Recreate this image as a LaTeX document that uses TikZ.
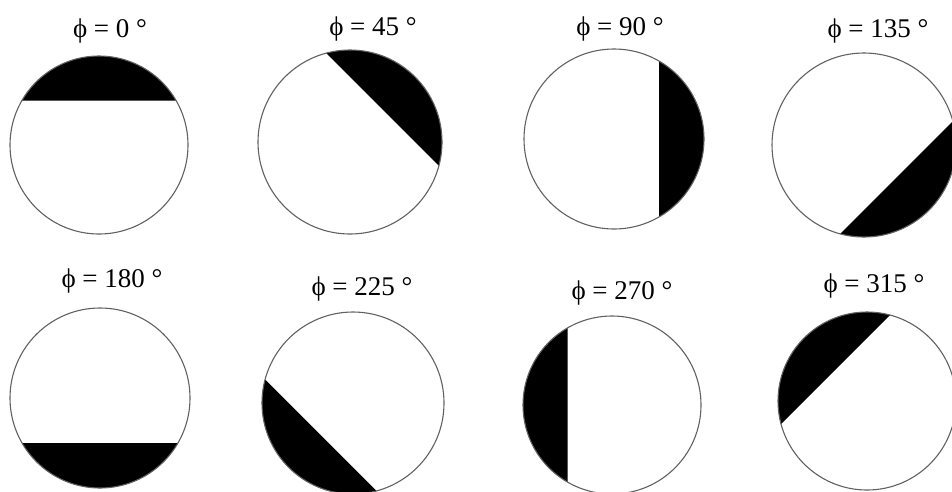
\documentclass[tikz,border=0pt]{standalone}
\usepackage{fontspec}
\setmainfont{Liberation Serif}
\begin{document}
\begin{tikzpicture}[x=1pt,y=1pt,
  disc/.style={circle,draw=black!62,line width=1.1pt,inner sep=0pt,outer sep=0pt},
  lbl/.style={anchor=base,inner sep=0pt,font=\fontsize{27}{32}\selectfont}]
\useasboundingbox (0,0) rectangle (952,-491);
\clip (0,0) rectangle (952,-491);
\fill[white] (0,0) rectangle (952,-491);
% centres
\coordinate (o1) at (99,-145);
\coordinate (o2) at (350,-142);
\coordinate (o3) at (614,-139);
\coordinate (o4) at (864,-145);
\coordinate (o5) at (100,-398);
\coordinate (o6) at (353,-403);
\coordinate (o7) at (612,-405);
\coordinate (o8) at (867,-401);
% black segments
\fill (o1) ++(30:89pt) arc[start angle=30,end angle=150,radius=89pt] -- cycle;
\fill (o2) ++(-15:92pt) arc[start angle=-15,end angle=105,radius=92pt] -- cycle;
\fill (o3) ++(-60:90pt) arc[start angle=-60,end angle=60,radius=90pt] -- cycle;
\fill (o4) ++(-105:92pt) arc[start angle=-105,end angle=15,radius=92pt] -- cycle;
\fill (o5) ++(210:90pt) arc[start angle=210,end angle=330,radius=90pt] -- cycle;
\fill (o6) ++(165:91pt) arc[start angle=165,end angle=285,radius=91pt] -- cycle;
\fill (o7) ++(120:89pt) arc[start angle=120,end angle=240,radius=89pt] -- cycle;
\fill (o8) ++(75:89pt) arc[start angle=75,end angle=195,radius=89pt] -- cycle;
% outlines
\node[disc,minimum size=178pt] (c1) at (o1) {};
\node[disc,minimum size=184pt] (c2) at (o2) {};
\node[disc,minimum size=180pt] (c3) at (o3) {};
\node[disc,minimum size=184pt] (c4) at (o4) {};
\node[disc,minimum size=180pt] (c5) at (o5) {};
\node[disc,minimum size=182pt] (c6) at (o6) {};
\node[disc,minimum size=178pt] (c7) at (o7) {};
\node[disc,minimum size=178pt] (c8) at (o8) {};
% labels
\node[lbl] (l1) at (110,-37) {ϕ = 0 °};
\node[lbl] (l2) at (373,-35) {ϕ = 45 °};
\node[lbl] (l3) at (620,-35) {ϕ = 90 °};
\node[lbl] (l4) at (878,-37) {ϕ = 135 °};
\node[lbl] (l5) at (112,-287) {ϕ = 180 °};
\node[lbl] (l6) at (362,-295) {ϕ = 225 °};
\node[lbl] (l7) at (622,-299) {ϕ = 270 °};
\node[lbl] (l8) at (874,-292) {ϕ = 315 °};
\end{tikzpicture}
\end{document}
